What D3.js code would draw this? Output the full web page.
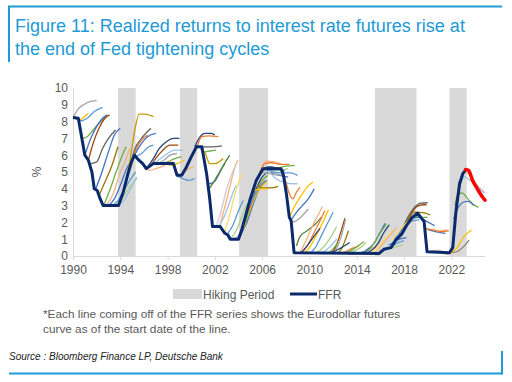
<!DOCTYPE html>
<html lang="en">
<head>
    <meta charset="UTF-8">
    <title>Figure 11</title>
    <script src="https://d3js.org/d3.v7.min.js"></script>
    <style>
        * { margin: 0; padding: 0; }
        body { background: white; font-family: "Liberation Sans", Arial, Helvetica, sans-serif; }
        svg { display: block; }
    </style>
</head>
<body>
<svg id="chart" width="512" height="382"></svg>
<script>
// axis ticks
const yearTicks = [1990, 1994, 1998, 2002, 2006, 2010, 2014, 2018, 2022];
const valueTicks = [0, 1, 2, 3, 4, 5, 6, 7, 8, 9, 10];

// hiking periods [start, end] in years
const hikingPeriods = [[1993.8, 1995.3], [1999.05, 2000.5], [2004.05, 2006.5], [2015.55, 2019.05], [2021.85, 2023.3]];

// fed funds rate
const ffrSeries = [[1990.0,8.25],[1990.45,8.2],[1990.7,7.2],[1991.0,6.0],[1991.3,5.7],[1991.6,5.0],[1991.8,4.0],[1992.05,3.9],
    [1992.3,3.4],[1992.55,3.0],[1993.85,3.0],[1994.25,3.8],[1994.65,4.9],[1994.95,5.6],[1995.2,6.0],[1995.5,5.75],
    [1995.9,5.5],[1996.2,5.2],[1996.8,5.5],[1998.5,5.5],[1998.8,4.8],[1999.2,4.8],[1999.6,5.3],[2000.0,5.9],
    [2000.45,6.5],[2000.9,6.5],[2001.3,4.9],[2001.55,3.5],[2001.8,1.75],[2002.45,1.75],[2002.85,1.35],[2003.1,1.25],
    [2003.3,1.0],[2004.0,1.0],[2004.25,1.5],[2004.95,3.3],[2005.5,4.5],[2006.07,5.2],[2007.6,5.2],[2007.8,4.8],
    [2008.05,3.7],[2008.3,2.3],[2008.45,2.1],[2008.7,0.2],[2015.9,0.15],[2016.3,0.4],[2016.9,0.5],[2017.3,0.95],
    [2017.8,1.3],[2018.2,1.8],[2018.7,2.3],[2019.15,2.55],[2019.7,2.05],[2019.95,0.25],[2021.85,0.2],[2022.12,0.5],
    [2022.4,2.7],[2022.7,4.3],[2022.97,4.9],[2023.2,5.1]];

// current curve (red)
const latestCurve = [[2023.2,5.15],[2023.45,5.1],[2023.8,4.5],[2024.2,4.0],[2024.65,3.5],[2024.85,3.33]];

// eurodollar futures curves, one per start date
const curves1990s = [
    [[1990.05,8.3],[1990.5,8.8],[1991.0,9.05],[1991.5,9.2],[1992.0,9.25]],
    [[1990.1,8.25],[1990.5,8.1],[1990.9,8.25],[1991.3,8.5]],
    [[1990.2,8.2],[1990.7,8.05],[1991.2,8.2],[1991.8,8.6],[1992.5,8.85]],
    [[1990.75,7.0],[1991.2,7.1],[1991.7,7.5],[1992.2,7.9],[1992.8,8.3]],
    [[1991.0,6.0],[1991.5,7.0],[1992.0,7.7],[1992.5,8.2],[1992.9,8.4]],
    [[1991.3,5.7],[1991.7,6.7],[1992.2,7.6],[1992.7,8.2],[1993.1,8.4]],
    [[1991.5,5.5],[1992.0,5.6],[1992.5,6.4],[1993.0,7.0],[1993.6,7.5]],
    [[1991.9,3.95],[1992.4,4.9],[1993.0,6.2],[1993.5,7.2],[1994.0,7.6]],
    [[1992.2,3.6],[1992.7,4.4],[1993.3,5.4],[1993.8,6.5]],
    [[1992.6,3.0],[1993.1,3.9],[1993.7,5.1],[1994.3,6.2],[1994.5,6.5]],
    [[1992.8,3.0],[1993.4,3.7],[1993.9,4.8],[1994.4,5.6],[1994.8,6.4]],
    [[1993.0,3.0],[1993.5,3.4],[1994.0,4.2],[1994.6,5.3],[1995.1,5.8]],
    [[1993.3,3.0],[1993.8,3.3],[1994.3,3.9],[1994.9,4.6],[1995.3,5.0]],
    [[1993.5,3.0],[1994.0,3.3],[1994.5,3.8],[1995.0,4.3],[1995.4,4.6]],
    [[1993.8,3.0],[1994.3,3.3],[1994.8,3.9],[1995.4,4.7]],
    [[1994.4,4.3],[1994.8,5.6],[1995.2,7.4],[1995.6,8.45],[1996.1,8.45],[1996.8,8.3]],
    [[1994.8,5.2],[1995.2,6.3],[1995.8,7.0],[1996.6,7.6]],
    [[1994.9,5.4],[1995.3,6.3],[1995.8,6.9],[1996.3,7.2]],
    [[1995.2,6.0],[1995.7,6.6],[1996.3,7.1],[1997.0,7.3]],
    [[1995.3,5.9],[1995.8,6.1],[1996.4,6.5],[1996.8,6.6]],
    [[1996.3,5.3],[1996.8,5.8],[1997.3,6.4],[1997.9,6.8],[1998.5,7.0],[1999.0,7.0]],
    [[1996.6,5.4],[1997.1,5.9],[1997.6,6.3],[1998.2,6.6],[1998.9,6.6]],
    [[1996.9,5.5],[1997.4,5.8],[1998.0,6.1],[1998.6,6.3],[1999.3,6.3]],
    [[1997.2,5.5],[1997.7,5.7],[1998.2,6.0],[1998.8,6.1]],
    [[1997.5,5.5],[1998.0,5.6],[1998.6,5.8],[1999.2,5.9]],
    [[1997.8,5.5],[1998.3,5.4],[1998.8,5.5],[1999.4,5.7]],
    [[1996.0,5.25],[1996.5,5.1],[1997.0,5.2],[1997.6,5.35],[1998.4,5.7]],
    [[1998.8,4.75],[1999.3,4.6],[1999.8,4.5],[2000.3,4.6]],
    [[1999.0,4.8],[1999.4,5.0],[1999.8,5.2],[2000.2,5.3]],
    [[1999.3,5.0],[1999.7,5.6],[2000.1,6.0],[2000.5,6.2]]
];
const colors1990s = ["gray","gold","lblue","green","blue","brown","dgray","blue","olive","green","peach","blue",
    "lblue","lgreen","lblue2","mustard","dgray","orange","blue","lblue","dblue","brown","lblue2","gray","green",
    "gold","peach","lblue","peach","lgray"];

const curves2000s = [
    [[2000.3,6.5],[2000.7,7.05],[2001.2,7.3],[2001.7,7.3],[2002.0,7.2]],
    [[2000.5,6.5],[2000.9,7.1],[2001.5,7.15],[2002.3,7.1]],
    [[2000.7,6.5],[2001.0,6.5],[2001.8,6.5],[2002.6,6.55]],
    [[2000.8,6.4],[2001.0,6.2],[2001.6,6.25],[2002.1,6.3]],
    [[2000.9,6.3],[2001.2,6.1],[2001.55,5.5],[2002.0,5.5],[2002.7,5.8]],
    [[2001.3,4.6],[2001.5,4.3],[2002.0,4.45],[2002.5,5.1],[2002.85,5.5]],
    [[2001.4,3.9],[2001.9,4.4],[2002.4,5.0],[2002.9,5.6],[2003.25,6.0]],
    [[2002.4,1.8],[2002.8,2.8],[2003.3,4.2],[2003.7,5.3],[2003.95,5.7]],
    [[2002.1,1.75],[2002.5,2.6],[2003.0,4.0],[2003.5,5.0],[2003.7,5.3]],
    [[2002.8,1.4],[2003.2,2.3],[2003.7,3.7],[2004.25,4.9]],
    [[2002.3,1.75],[2002.7,2.2],[2003.2,3.1],[2003.6,3.9],[2003.8,4.2]],
    [[2003.0,1.25],[2003.5,1.8],[2004.0,2.7],[2004.4,3.3]],
    [[2003.3,1.0],[2003.8,1.5],[2004.3,2.4],[2004.7,3.1]],
    [[2003.6,1.0],[2004.1,1.3],[2004.6,2.1],[2005.0,2.9]],
    [[2004.0,1.0],[2004.5,1.8],[2005.0,3.0],[2005.5,4.0],[2006.0,4.7],[2006.5,5.0]],
    [[2004.2,1.3],[2004.7,2.0],[2005.2,3.0],[2005.7,3.9],[2006.3,4.5]],
    [[2004.4,1.6],[2004.9,2.6],[2005.4,3.5],[2005.9,4.1],[2006.4,4.4]],
    [[2004.6,2.0],[2005.0,3.0],[2005.5,3.9],[2006.0,4.5],[2006.5,4.8]],
    [[2004.9,2.7],[2005.3,3.5],[2005.8,4.2],[2006.3,4.5]],
    [[2005.0,3.0],[2005.5,3.8],[2006.0,4.3],[2006.4,4.5]],
    [[2005.5,4.4],[2005.9,5.2],[2006.4,5.65],[2007.0,5.6],[2007.6,5.5]],
    [[2005.8,4.8],[2006.2,5.5],[2006.8,5.55],[2007.6,5.45],[2008.3,5.45]],
    [[2006.1,5.2],[2006.6,5.3],[2007.3,5.25],[2008.0,5.35],[2008.75,5.4]],
    [[2006.0,5.1],[2006.7,5.1],[2007.4,5.1],[2008.2,5.2]],
    [[2006.2,5.25],[2006.6,5.3],[2007.3,5.2],[2007.9,5.05]],
    [[2006.3,5.2],[2006.9,5.0],[2007.6,4.95],[2008.4,4.95],[2009.0,4.8]],
    [[2006.4,5.2],[2006.9,4.9],[2007.5,4.8],[2008.2,4.7]],
    [[2006.5,5.2],[2007.0,4.7],[2007.8,4.4],[2008.5,4.3],[2009.0,4.3]],
    [[2005.6,4.2],[2006.0,4.05],[2006.7,4.05],[2007.35,4.15]],
    [[2005.4,3.9],[2005.8,4.0],[2006.5,4.0]],
    [[2006.0,5.0],[2006.6,4.9],[2007.2,4.85],[2007.8,4.8]],
    [[2007.8,4.9],[2008.05,4.3],[2008.3,3.7],[2008.6,3.4],[2008.9,3.8],[2009.2,4.1]],
    [[2008.3,2.3],[2008.7,2.9],[2009.3,3.6],[2009.8,4.1],[2010.3,4.4]],
    [[2008.5,2.2],[2008.9,2.6],[2009.4,3.0],[2009.9,3.4],[2010.4,4.0]],
    [[2008.5,2.0],[2008.9,2.1],[2009.4,2.4],[2009.9,2.8]],
    [[2008.9,0.6],[2009.2,1.15],[2009.8,1.5],[2010.5,1.9],[2011.0,2.3]],
    [[2009.2,0.2],[2009.7,0.9],[2010.2,1.7],[2010.7,2.4],[2011.1,2.95]],
    [[2009.4,0.2],[2009.9,0.7],[2010.4,1.4],[2010.9,2.1],[2011.3,2.7]],
    [[2009.6,0.15],[2010.1,0.6],[2010.7,1.4],[2011.2,2.1],[2011.6,2.75]],
    [[2009.3,0.2],[2009.8,0.6],[2010.3,1.1],[2010.9,1.65]]
];
const colors2000s = ["dblue","orange","dgray","green","mustard","blue","dgreen","peach","lgray","lgold","lblue2",
    "lblue","lgreen","lblue2","dblue","blue","gold","green","orange","lblue","peach","orange","green","lgreen",
    "dblue","lblue","blue","lblue2","olive","gold","gray","orange","gold","blue","gray","dgreen","peach","orange",
    "gold","dblue"];

const curves2010s = [
    [[2010.0,0.15],[2010.5,0.5],[2011.0,1.2],[2011.5,1.9],[2012.0,2.6]],
    [[2010.5,0.15],[2011.0,0.4],[2011.6,0.9],[2012.3,1.75]],
    [[2010.8,0.15],[2011.3,0.3],[2011.8,0.6],[2012.3,1.0]],
    [[2011.8,0.15],[2012.2,0.5],[2012.6,1.3],[2013.0,2.25]],
    [[2011.9,0.15],[2012.3,0.45],[2012.7,1.2],[2013.05,2.15]],
    [[2012.3,0.15],[2012.7,0.4],[2013.0,0.9],[2013.3,1.5]],
    [[2011.5,0.15],[2011.9,0.35],[2012.4,0.8]],
    [[2011.0,0.15],[2011.8,0.2],[2012.6,0.45],[2013.4,0.8]],
    [[2012.0,0.15],[2012.8,0.2],[2013.6,0.45],[2014.2,0.6]],
    [[2012.5,0.15],[2013.3,0.25],[2014.0,0.55],[2014.6,0.85]],
    [[2013.0,0.15],[2013.6,0.25],[2014.3,0.5],[2014.8,0.8]],
    [[2013.3,0.12],[2014.0,0.15],[2014.7,0.3],[2015.2,0.55]],
    [[2013.8,0.12],[2014.4,0.15],[2015.0,0.35],[2015.6,0.6]],
    [[2014.2,0.15],[2014.8,0.3],[2015.4,0.7],[2015.9,1.3],[2016.4,1.95]],
    [[2014.4,0.15],[2015.0,0.35],[2015.5,0.8],[2016.0,1.4],[2016.5,1.9]],
    [[2014.7,0.15],[2015.3,0.35],[2015.8,0.75],[2016.3,1.4],[2016.75,1.85]],
    [[2015.0,0.15],[2015.5,0.3],[2016.0,0.7],[2016.6,1.2],[2017.2,1.6]],
    [[2015.3,0.15],[2015.8,0.35],[2016.3,0.8],[2016.9,1.3],[2017.4,1.7]],
    [[2016.2,0.4],[2016.7,0.45],[2017.3,0.55],[2017.9,0.65]],
    [[2016.4,0.4],[2016.9,0.55],[2017.5,0.8],[2018.0,0.9]],
    [[2016.7,0.65],[2017.2,0.85],[2017.6,1.0],[2018.2,1.1]],
    [[2017.4,1.1],[2017.9,1.7],[2018.4,2.4],[2018.9,2.9],[2019.4,3.15],[2020.0,3.17]],
    [[2017.6,1.2],[2018.1,1.8],[2018.6,2.5],[2019.1,2.95],[2019.6,3.05],[2019.9,3.05]],
    [[2017.8,1.4],[2018.3,2.0],[2018.8,2.6],[2019.3,2.6],[2019.8,2.55],[2020.2,2.45]],
    [[2018.0,1.5],[2018.5,2.1],[2019.0,2.35],[2019.5,2.3],[2020.0,2.3]],
    [[2018.2,1.75],[2018.7,2.25],[2019.2,2.3],[2019.7,2.15],[2020.2,1.95],[2020.6,1.8]],
    [[2017.0,1.0],[2017.6,1.5],[2018.1,1.9],[2018.6,2.15]],
    [[2017.2,1.0],[2017.7,1.4],[2018.3,1.95],[2018.8,2.1],[2019.3,2.15]]
];
const colors2010s = ["lblue","lgreen","lblue2","brown","gray","olive","green","dblue","orange","green","lgreen",
    "blue","peach","blue","green","dblue","lgold","peach","lgreen","lblue","blue","dgray","brown","olive","green",
    "blue","lgold","lblue"];

const curves2020s = [
    [[2019.9,1.65],[2020.4,1.55],[2021.0,1.5],[2021.7,1.55]],
    [[2019.9,1.6],[2020.4,1.5],[2021.0,1.4],[2021.5,1.35]],
    [[2019.9,1.6],[2020.4,1.55],[2021.0,1.45],[2021.8,1.5]],
    [[2020.2,0.3],[2020.7,0.35],[2021.2,0.3]],
    [[2020.5,0.2],[2021.0,0.25],[2021.5,0.2]],
    [[2021.3,0.15],[2021.7,0.1],[2022.0,0.2]],
    [[2022.6,3.8],[2022.9,4.85],[2023.2,5.0],[2023.7,4.7],[2024.2,4.2],[2024.8,3.8]],
    [[2022.7,4.2],[2023.0,4.75],[2023.5,4.55],[2024.1,4.2],[2024.8,3.75]],
    [[2022.3,3.0],[2022.6,3.7],[2022.9,3.75],[2023.4,3.4],[2024.0,3.0],[2024.3,2.9]],
    [[2022.2,2.2],[2022.6,2.9],[2023.0,3.2],[2023.4,3.25],[2023.9,3.0]],
    [[2022.0,0.2],[2022.5,0.5],[2023.0,1.1],[2023.7,1.55]],
    [[2022.1,0.2],[2022.6,0.3],[2023.1,0.6],[2023.5,0.95]],
    [[2022.1,0.5],[2022.4,2.5],[2022.7,4.1],[2023.0,4.75]]
];
const colors2020s = ["peach","blue","orange","lgray","gray","peach","peach","lblue2","green","blue","gold","taupe","lblue"];

const palette = {
    blue: "#4472c4", orange: "#ed7d31", gray: "#a5a5a5", gold: "#ffc000", lblue: "#5b9bd5", green: "#70ad47",
    dblue: "#264478", brown: "#9e480e", dgray: "#636363", olive: "#997300", mustard: "#c49a00", dgreen: "#548235",
    lblue2: "#9dc3e6", peach: "#f4b183", lgray: "#d6c9c9", lgold: "#ffd966", lgreen: "#a9d18e", taupe: "#8e7f73"
};

const svg = d3.select("#chart");
const blue = "#1e9ad6";
const axisGray = "#595959";

// frame
svg.append("line").attr("x1", 8).attr("x2", 502).attr("y1", 6.5).attr("y2", 6.5)
    .attr("stroke", blue).attr("stroke-width", 2);
svg.append("line").attr("x1", 9).attr("x2", 9).attr("y1", 6).attr("y2", 62)
    .attr("stroke", blue).attr("stroke-width", 2);
svg.append("line").attr("x1", 9).attr("x2", 502).attr("y1", 373.5).attr("y2", 373.5)
    .attr("stroke", blue).attr("stroke-width", 2);
svg.append("line").attr("x1", 502).attr("x2", 502).attr("y1", 351).attr("y2", 374.5)
    .attr("stroke", blue).attr("stroke-width", 2);

// title
const title = svg.append("text").attr("fill", blue).style("font-size", "18px");
title.append("tspan").attr("x", 15).attr("y", 32).text("Figure 11: Realized returns to interest rate futures rise at");
title.append("tspan").attr("x", 15).attr("y", 55).text("the end of Fed tightening cycles");

// scales
const x = d3.scaleLinear().domain([1990, 2024.85]).range([73, 485]);
const y = d3.scaleLinear().domain([0, 10]).range([256, 88]);

// hiking bands
svg.append("g").selectAll("rect").data(hikingPeriods).join("rect")
    .attr("x", d => x(d[0]))
    .attr("width", d => x(d[1]) - x(d[0]))
    .attr("y", y(10))
    .attr("height", y(0) - y(10))
    .attr("fill", "#d9d9d9");

// axes
const xAxis = svg.append("g").attr("transform", `translate(0,${y(0)})`)
    .call(d3.axisBottom(x).tickValues(yearTicks).tickFormat(d3.format("d")).tickSize(4));
const yAxis = svg.append("g").attr("transform", `translate(${x(1990)},0)`)
    .call(d3.axisLeft(y).tickValues(valueTicks).tickSize(0).tickPadding(5));
[xAxis, yAxis].forEach(g => {
    g.select(".domain").attr("stroke", "#d9d9d9");
    g.selectAll(".tick line").attr("stroke", "#d9d9d9");
    g.selectAll("text").attr("fill", axisGray).style("font-size", "12px")
        .style("font-family", "'Liberation Sans', Arial, sans-serif");
});
xAxis.select(".domain").attr("d", `M${x(1990)},0.5H${x(2024.85)}`);
xAxis.selectAll("text").attr("dy", "0.95em");

svg.append("text")
    .attr("transform", `translate(41,${y(5)}) rotate(-90)`)
    .attr("text-anchor", "middle")
    .attr("fill", axisGray).style("font-size", "12px").text("%");

// futures curves
const curveLine = d3.line().x(d => x(d[0])).y(d => y(d[1])).curve(d3.curveMonotoneX);
const allCurves = [
    [curves1990s, colors1990s], [curves2000s, colors2000s], [curves2010s, colors2010s], [curves2020s, colors2020s]
];
const gCurves = svg.append("g").attr("fill", "none").attr("stroke-width", 1.3);
allCurves.forEach(([curves, cols]) => {
    curves.forEach((pts, i) => {
        gCurves.append("path").attr("d", curveLine(pts)).attr("stroke", palette[cols[i]]);
    });
});

// FFR
const ffrLine = d3.line().x(d => x(d[0])).y(d => y(d[1]));
svg.append("path").attr("d", ffrLine(ffrSeries)).attr("fill", "none")
    .attr("stroke", "#0b2a6b").attr("stroke-width", 3).attr("stroke-linejoin", "round");

svg.append("path").attr("d", curveLine(latestCurve)).attr("fill", "none")
    .attr("stroke", "#ff0000").attr("stroke-width", 3.5).attr("stroke-linecap", "round");

// legend
const legend = svg.append("g").style("font-size", "12px").attr("fill", axisGray);
legend.append("rect").attr("x", 173).attr("y", 289).attr("width", 29).attr("height", 10).attr("fill", "#d9d9d9");
legend.append("text").attr("x", 203).attr("y", 298.5).text("Hiking Period");
legend.append("line").attr("x1", 290).attr("x2", 317).attr("y1", 294).attr("y2", 294)
    .attr("stroke", "#0b2a6b").attr("stroke-width", 3);
legend.append("text").attr("x", 318).attr("y", 298.5).text("FFR");

// note
const note = svg.append("text").attr("fill", axisGray).style("font-size", "11.8px");
note.append("tspan").attr("x", 43).attr("y", 318).text("*Each line coming off of the FFR series shows the Eurodollar futures");
note.append("tspan").attr("x", 43).attr("y", 333).text("curve as of the start date of the line.");

// source
svg.append("text").attr("x", 9).attr("y", 360).attr("fill", "#222")
    .style("font-size", "10px").style("font-style", "italic")
    .text("Source : Bloomberg Finance LP, Deutsche Bank");
</script>
</body>
</html>
